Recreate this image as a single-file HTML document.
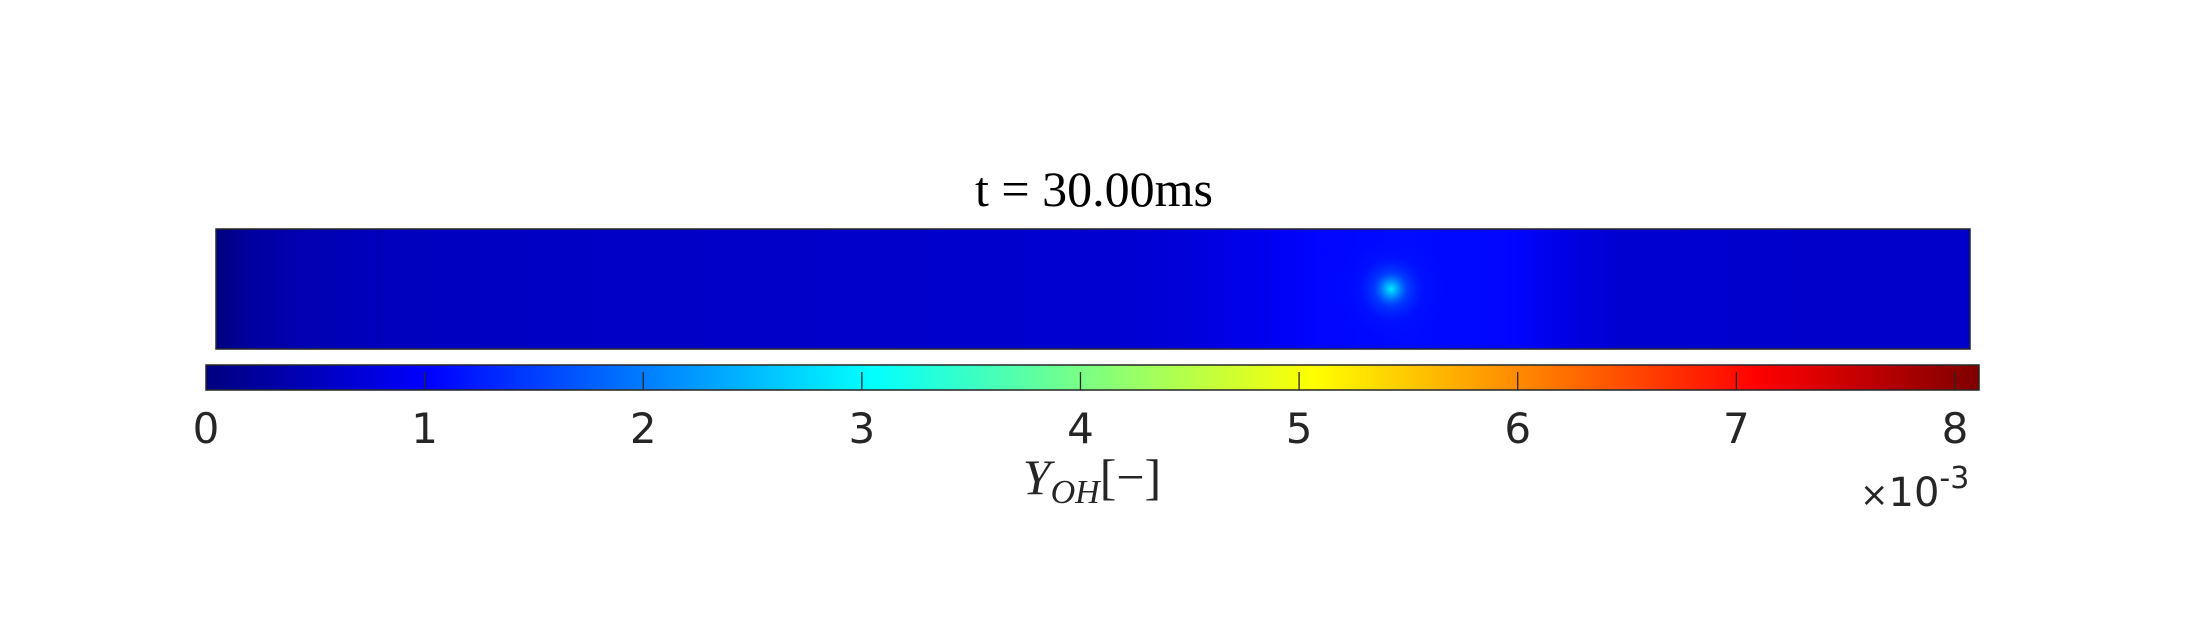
<!DOCTYPE html>
<html><head><meta charset="utf-8">
<style>
html,body{margin:0;padding:0;background:#fff;}
svg{display:block;}
</style></head>
<body>
<svg id="chart" width="2187" height="625" viewBox="0 0 2187 625" xmlns="http://www.w3.org/2000/svg">
<defs id="defs"></defs>
<text x="1094" y="206" text-anchor="middle" font-family="Liberation Serif, serif" font-size="50" fill="#000">t = 30.00ms</text>
<g id="field"></g>
<g id="cbar"></g>
<text x="1092" y="494" text-anchor="middle" font-family="Liberation Serif, serif" font-size="50" fill="#262626"><tspan font-style="italic">Y</tspan><tspan font-style="italic" font-size="34" dy="9">OH</tspan><tspan dy="-9">[−]</tspan></text>
<text x="1860" y="506" font-family="DejaVu Sans, sans-serif" font-size="40" fill="#262626"><tspan font-size="34">×</tspan>10<tspan font-size="30" dy="-18">-3</tspan></text>
</svg>
<script>
// colorbar data (x 1e-3)
const cbarMin = 0;
const cbarMax = 8.11;
const tickValues = [0,1,2,3,4,5,6,7,8];
const tickLabels = ['0','1','2','3','4','5','6','7','8'];
// field profile along x (fraction of domain) with Y_OH values (x 1e-3)
const profileX = [0,0.02,0.05,0.1,0.2,0.3,0.4,0.5,0.55,0.6,0.63,0.68,0.74,0.77,0.8,0.9,1];
const profileY = [0,0.25,0.4,0.5,0.55,0.58,0.6,0.63,0.7,0.9,1.05,1.1,1.05,0.8,0.65,0.6,0.6];
// hot spot
const spotX = 0.67;
const spotY = 0.5;
const spotPeak = 2.9;

const NS='http://www.w3.org/2000/svg';
function jet(v){
  let t=Math.max(0,Math.min(1,(v-cbarMin)/(cbarMax-cbarMin)));
  const cl=x=>Math.max(0,Math.min(1,x));
  let r=cl(Math.min(4*t-1.5,-4*t+4.5));
  let g=cl(Math.min(4*t-0.5,-4*t+3.5));
  let b=cl(Math.min(4*t+0.5,-4*t+2.5));
  return `rgb(${Math.round(r*255)},${Math.round(g*255)},${Math.round(b*255)})`;
}
const defs=document.getElementById('defs');
function mk(tag,attrs,parent){const e=document.createElementNS(NS,tag);for(const k in attrs)e.setAttribute(k,attrs[k]);parent.appendChild(e);return e;}

// field plot
const PX0=216,PX1=1970,PY0=229,PY1=349;
const lg=mk('linearGradient',{id:'fieldGrad',x1:0,x2:1,y1:0,y2:0},defs);
profileX.forEach((p,i)=>mk('stop',{offset:p,'stop-color':jet(profileY[i])},lg));
const rg=mk('radialGradient',{id:'spotGrad',cx:0.5,cy:0.5,r:0.5},defs);
const spotStops=[[0,spotPeak,1],[0.12,spotPeak*0.8,0.95],[0.3,spotPeak*0.6,0.6],[0.6,spotPeak*0.45,0.2],[1,spotPeak*0.4,0]];
spotStops.forEach(s=>mk('stop',{offset:s[0],'stop-color':jet(s[1]),'stop-opacity':s[2]},rg));
const field=document.getElementById('field');
const fr=mk('rect',{x:PX0,y:PY0,width:PX1-PX0,height:PY1-PY0,fill:'url(#fieldGrad)'},field);


const sx=PX0+spotX*(PX1-PX0), sy=PY0+spotY*(PY1-PY0);
const sp=mk('ellipse',{cx:sx,cy:sy,rx:55,ry:55,fill:'url(#spotGrad)'},field);


const fb=mk('rect',{x:PX0,y:PY0,width:PX1-PX0,height:PY1-PY0,fill:'none',stroke:'#262626','stroke-width':1.5},field);



// colorbar
const CX0=206,CX1=1979,CY0=365,CY1=390;
const xs=v=>CX0+(v-cbarMin)/(cbarMax-cbarMin)*(CX1-CX0);
const cg=mk('linearGradient',{id:'cbarGrad',x1:0,x2:1,y1:0,y2:0},defs);
for(let i=0;i<=64;i++){const v=cbarMin+(cbarMax-cbarMin)*i/64;mk('stop',{offset:i/64,'stop-color':jet(v)},cg);}
const cbar=document.getElementById('cbar');
const cr=mk('rect',{x:CX0,y:CY0,width:CX1-CX0,height:CY1-CY0,fill:'url(#cbarGrad)',stroke:'#262626','stroke-width':1.5},cbar);


tickValues.forEach((v,i)=>{
  const x=xs(v);
  if(i>0){
    const t=mk('line',{x1:x,x2:x,y1:CY0+7,y2:CY1,stroke:'#262626','stroke-width':1.3},cbar);
    
    
  }
  const lb=mk('text',{x:x,y:443,'text-anchor':'middle','font-family':'DejaVu Sans, sans-serif','font-size':42,fill:'#262626'},cbar);
  lb.textContent=tickLabels[i];
  
  
});
</script>
</body></html>
